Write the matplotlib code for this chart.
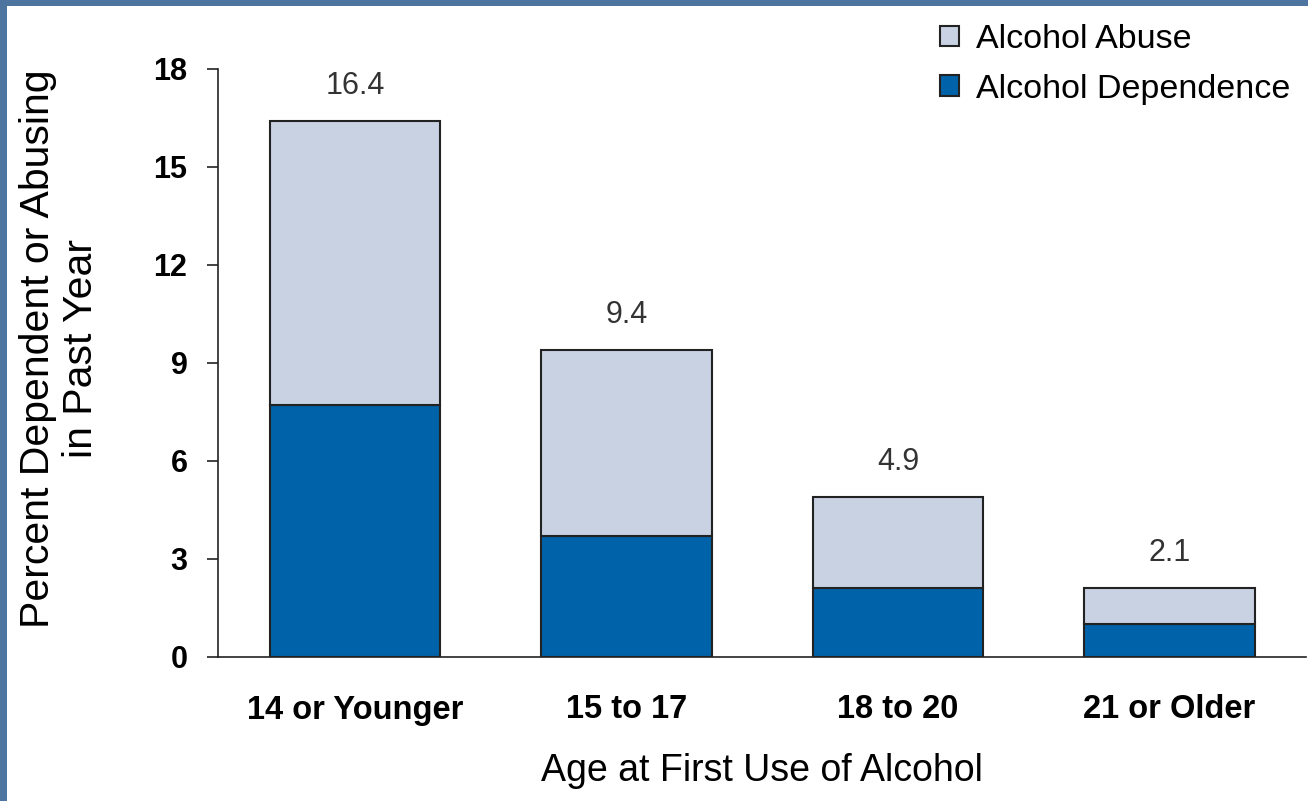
import matplotlib
matplotlib.use("Agg")
import matplotlib.pyplot as plt
from matplotlib.patches import Rectangle
import numpy as np

plt.rcParams['font.family'] = ['Liberation Sans', 'DejaVu Sans']

categories = ['14 or Younger', '15 to 17', '18 to 20', '21 or Older']
dependence = [7.7, 3.7, 2.1, 1.0]
totals = [16.4, 9.4, 4.9, 2.1]
abuse = [t - d for t, d in zip(totals, dependence)]
yticks = [0, 3, 6, 9, 12, 15, 18]

dark = '#0062A8'
light = '#C8D2E3'
edge = '#222222'

fig = plt.figure(figsize=(13.08, 8.01), dpi=100, facecolor='#4E74A0')
fig.patches.append(Rectangle((7/1308, 0), 1 - 7/1308, 1 - 6/801, transform=fig.transFigure,
                             facecolor='white', edgecolor='none', zorder=-10))

ax = fig.add_axes([218/1308, 1 - 657/801, (1306 - 218)/1308, (657 - 69)/801])
ax.set_facecolor('none')

x = np.arange(len(categories))
w = 0.627
b1 = ax.bar(x, dependence, w, color=dark, edgecolor=edge, linewidth=1.5, label='Alcohol Dependence')
b2 = ax.bar(x, abuse, w, bottom=dependence, color=light, edgecolor=edge, linewidth=1.5, label='Alcohol Abuse')

for xi, t in zip(x, totals):
    ax.annotate(f'{t}', (xi, t), xytext=(0, 27), textcoords='offset pixels',
                ha='center', va='baseline', fontsize=22, color='#333333')

ax.set_xlim(-0.505, 3.503)
ax.set_ylim(0, 18)
ax.set_yticks(yticks)
ax.set_yticklabels([str(v) for v in yticks], fontsize=22, fontweight='bold')
ax.set_xticks(x)
ax.set_xticklabels(categories, fontsize=23.5, fontweight='bold')
ax.tick_params(axis='x', length=0, pad=27)
ax.tick_params(axis='y', length=8, width=1.2, direction='out', pad=14, color='#222222')
for s in ['top', 'right']:
    ax.spines[s].set_visible(False)
for s in ['left', 'bottom']:
    ax.spines[s].set_linewidth(1.2)
    ax.spines[s].set_color('#222222')

ax.set_xlabel('Age at First Use of Alcohol', fontsize=27, labelpad=20)
ax.set_ylabel('Percent Dependent or Abusing\nin Past Year', fontsize=29.5, linespacing=1.15)
ax.yaxis.set_label_coords(-0.1085, 0.524)

fig.legend([b2, b1], ['Alcohol Abuse', 'Alcohol Dependence'], loc='upper left',
           bbox_to_anchor=(940/1308, 1 - 24/801), frameon=False, fontsize=24.5,
           handlelength=0.55, handleheight=0.55, handletextpad=0.5, labelspacing=0.55,
           borderaxespad=0, borderpad=0)

fig.savefig('out.png', dpi=100, facecolor=fig.get_facecolor())
